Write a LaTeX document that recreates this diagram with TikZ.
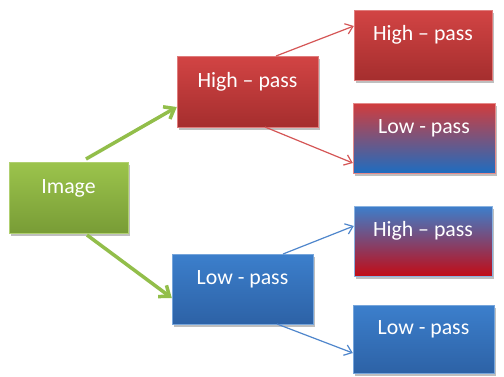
\documentclass[tikz,border=0pt]{standalone}
\usepackage{fontspec}
\setmainfont{Carlito}
\usetikzlibrary{arrows.meta,shadows}
\definecolor{gtop}{HTML}{9CC44C}
\definecolor{gbot}{HTML}{789C36}
\definecolor{rtop}{HTML}{D24444}
\definecolor{rbot}{HTML}{A52E2E}
\definecolor{btop}{HTML}{3C7FCC}
\definecolor{bbot}{HTML}{2D62A6}
\definecolor{mred}{HTML}{D23C3C}
\definecolor{mblue}{HTML}{1E6DC0}
\definecolor{mred2}{HTML}{C20C16}
\definecolor{garrow}{HTML}{92BE4A}
\definecolor{rarrow}{HTML}{D55656}
\definecolor{barrow}{HTML}{4F86CC}
\tikzset{
  box/.style={draw=white!75!black, line width=0.4pt, minimum width=#1, inner sep=0pt,
    font=\fontsize{21.8}{26}\selectfont, text=white, text height=14pt, text depth=23pt,
    drop shadow={shadow xshift=2pt, shadow yshift=-3pt, opacity=0.25, fill=black}},
  greenbox/.style={box=#1, top color=gtop, bottom color=gbot, draw=gtop!80!white},
  redbox/.style={box=#1, top color=rtop, bottom color=rbot, draw=rtop!70!white},
  bluebox/.style={box=#1, top color=btop, bottom color=bbot, draw=btop!70!white},
  rbbox/.style={box=#1, top color=mred, bottom color=mblue, middle color=mred!50!mblue, draw=mred!60!white},
  brbox/.style={box=#1, top color=btop, bottom color=mred2, middle color=btop!50!mred2, draw=btop!60!white},
  garr/.style={draw=garrow, line width=3.5pt, -{Straight Barb[length=9pt,width=14pt,line width=3.5pt]}},
  rarr/.style={draw=rarrow, line width=1.2pt, -{Straight Barb[length=7pt,width=11pt]}},
  barr/.style={draw=barrow, line width=1.2pt, -{Straight Barb[length=7pt,width=11pt]}},
}
\begin{document}
\begin{tikzpicture}[x=1pt,y=-1pt]
\useasboundingbox (0,0) rectangle (504,376);
\fill[white] (0,0) rectangle (504,376);
\node[greenbox=119pt, minimum height=71pt] (img) at (68.5,197.5) {Image};
\node[redbox=141pt, minimum height=71pt] (hp) at (247.5,91.5) {High – pass};
\node[bluebox=141pt, minimum height=70pt] (lp) at (242.5,289) {Low - pass};
\node[redbox=138pt, minimum height=70pt] (hh) at (423,45) {High – pass};
\node[rbbox=142pt, minimum height=70pt] (hl) at (424,138) {Low - pass};
\node[brbox=138pt, minimum height=70pt] (lh) at (423,241) {High – pass};
\node[bluebox=141pt, minimum height=68pt] (ll) at (423.5,339) {Low - pass};
\coordinate (a1) at (86,159);
\coordinate (a2) at (87,235);
\draw[garr] (a1) -- (hp.west |- 0,107);
\draw[garr] (a2) -- (lp.west |- 0,298);
\draw[rarr] (276,56) -- (hh.west |- 0,26);
\draw[rarr] (265,127) -- (hl.west |- 0,163);
\draw[barr] (283,254) -- (lh.west |- 0,226);
\draw[barr] (277,324) -- (ll.west |- 0,353);
\end{tikzpicture}
\end{document}
